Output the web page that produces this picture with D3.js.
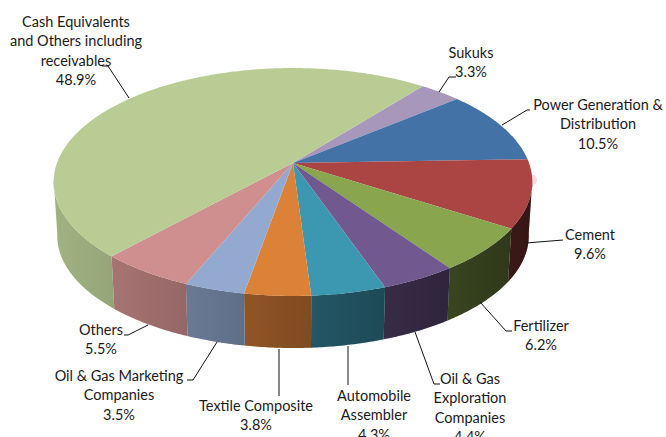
<!DOCTYPE html>
<html>
<head>
<meta charset="utf-8">
<script src="https://cdn.jsdelivr.net/npm/d3@7/dist/d3.min.js"></script>
<style>
html, body { margin: 0; padding: 0; background: #fff; }
svg { display: block; }
text { font-family: Lato, "Open Sans", sans-serif; font-size: 14.5px; fill: #1a1a1a; }
</style>
</head>
<body>
<svg id="chart" width="666" height="437"></svg>
<script>
// Portfolio allocation, clockwise starting at the top-right "Sukuks" wedge.
const sectors = ["Sukuks", "Power Generation & Distribution", "Cement", "Fertilizer",
  "Oil & Gas Exploration Companies", "Automobile Assembler", "Textile Composite",
  "Oil & Gas Marketing Companies", "Others", "Cash Equivalents and Others including receivables"];
const shares = [3.3, 10.5, 9.6, 6.2, 4.4, 4.3, 3.8, 3.5, 5.5, 48.9];
const palette = ["#a797bb", "#4272a6", "#aa4543", "#89a54e", "#71588f", "#3c97b0", "#dc8238", "#93a9cf", "#ce8f8e", "#b8cc94"];

// Wrapped label text for each sector.
const labelLines = [
  ["Sukuks", "3.3%"],
  ["Power Generation &", "Distribution", "10.5%"],
  ["Cement", "9.6%"],
  ["Fertilizer", "6.2%"],
  ["Oil & Gas", "Exploration", "Companies", "4.4%"],
  ["Automobile", "Assembler", "4.3%"],
  ["Textile Composite", "3.8%"],
  ["Oil & Gas Marketing", "Companies", "3.5%"],
  ["Others", "5.5%"],
  ["Cash Equivalents", "and Others including", "receivables", "48.9%"]
];
// Label centre x, first baseline y, and leader-line vertices.
const labelLayout = [
  { x: 471, y: 58, leader: [[439, 92], [449, 77], [456, 77]] },
  { x: 598, y: 110, leader: [[502, 125], [527, 110], [530, 110]] },
  { x: 590, y: 240, leader: [[526, 243], [563, 240]] },
  { x: 541, y: 331, leader: [[480, 302], [506, 331], [512, 331]] },
  { x: 470, y: 384, leader: [[415, 332], [434, 384], [440, 384]] },
  { x: 374, y: 401, leader: [[348, 346], [348, 385]] },
  { x: 256, y: 411, leader: [[279, 349], [279, 396]] },
  { x: 119, y: 381, leader: [[217, 342], [193, 380], [187, 380]] },
  { x: 101, y: 335, leader: [[148, 325], [128, 335], [124, 335]] },
  { x: 76, y: 27, leader: [[129, 98], [108, 66], [102, 66]] }
];

const lineHeight = 19.4;
const apex = { x: 293, y: 163 };      // where the wedges meet on the top face
const radius = 236;                   // horizontal radius before perspective
const squash = 110.8;                 // vertical radius before perspective
const tilt = 0.1667;                  // perspective strength
const depth = 54;                     // vertical drop of the lower rim
const rimScale = 0.985;               // lower rim is slightly smaller
const rotation = -1.9 * Math.PI / 180;

const svg = d3.select("#chart");

// d3.pie angles run clockwise from north; the first wedge starts in the upper right.
const startAngle = (-37.8 - 11.88) * Math.PI / 180 + Math.PI / 2 + rotation;
const pie = d3.pie().sort(null).startAngle(startAngle).endAngle(startAngle + 2 * Math.PI);
const arcs = pie(shares);

// Projects a pie angle onto the tilted top face.
function topPoint(a) {
  const t = a - Math.PI / 2;
  const w = 1 - tilt * Math.sin(t);
  return [apex.x + radius * Math.cos(t) / w, apex.y + squash * Math.sin(t) / w];
}
// Same angle on the lower rim of the disc.
function bottomPoint(a) {
  const [x, y] = topPoint(a);
  return [apex.x + (x - apex.x) * rimScale, apex.y + (y - apex.y) * rimScale + depth];
}
function sweep(a0, a1) {
  const n = Math.max(2, Math.ceil(Math.abs(a1 - a0) / 0.01));
  return d3.range(n + 1).map(i => a0 + (a1 - a0) * i / n);
}
const poly = d3.line();

// Horizontal shading laid over the side wall, darker to the right.
const defs = svg.append("defs");
const shade = defs.append("linearGradient").attr("id", "wallShade")
  .attr("gradientUnits", "userSpaceOnUse")
  .attr("x1", 50).attr("x2", 530).attr("y1", 0).attr("y2", 0);
shade.append("stop").attr("offset", 0).attr("stop-color", "#000").attr("stop-opacity", 0.12);
shade.append("stop").attr("offset", 1).attr("stop-color", "#000").attr("stop-opacity", 0.68);

// The wall is visible on the near half of the disc only: angles facing the viewer.
const tangent = Math.asin(tilt);
const frontStart = Math.PI / 2 + tangent - 0.02;
const frontEnd = 3 * Math.PI / 2 - tangent + 0.02;

function wallPath(d) {
  const a0 = Math.max(d.startAngle, frontStart);
  const a1 = Math.min(d.endAngle, frontEnd);
  if (a1 <= a0) return null;
  const pts = sweep(a0, a1);
  return poly(pts.map(topPoint).concat(pts.slice().reverse().map(bottomPoint))) + "Z";
}

const wall = svg.append("g");
arcs.forEach((d, i) => {
  const p = wallPath(d);
  if (!p) return;
  wall.append("path").attr("d", p).attr("fill", palette[i]);
  wall.append("path").attr("d", p).attr("fill", "url(#wallShade)");
});

// Faint pink fleck just off the Cement wedge's outer edge, tucked behind the top face.
svg.append("ellipse")
  .attr("cx", 533).attr("cy", 180).attr("rx", 4).attr("ry", 5)
  .attr("fill", "#f3dddd");

// Top face wedges.
svg.append("g").selectAll("path").data(arcs).join("path")
  .attr("d", d => poly([[apex.x, apex.y]].concat(sweep(d.startAngle, d.endAngle).map(topPoint))) + "Z")
  .attr("fill", (d, i) => palette[i])
  .attr("data-sector", (d, i) => sectors[i]);

// Leader lines.
svg.append("g").selectAll("path").data(labelLayout).join("path")
  .attr("d", d => poly(d.leader))
  .attr("fill", "none").attr("stroke", "#111").attr("stroke-width", 1);

// Sector labels.
const labels = svg.append("g").selectAll("text").data(labelLayout).join("text")
  .attr("text-anchor", "middle");
labels.each(function (d, i) {
  d3.select(this).selectAll("tspan").data(labelLines[i]).join("tspan")
    .attr("x", d.x)
    .attr("y", (l, k) => d.y + k * lineHeight)
    .text(l => l);
});
</script>
</body>
</html>
